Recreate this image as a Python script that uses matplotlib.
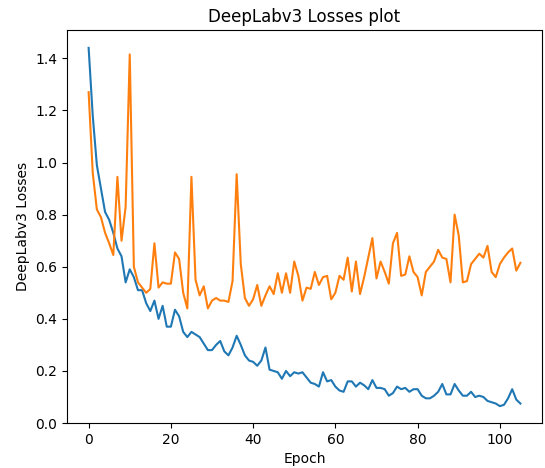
import matplotlib
matplotlib.use("Agg")
import matplotlib.pyplot as plt
import numpy as np

# per-epoch losses
train_loss = [1.44, 1.18, 0.99, 0.90, 0.81, 0.78, 0.73, 0.67, 0.64, 0.54,
              0.59, 0.56, 0.51, 0.51, 0.46, 0.43, 0.47, 0.40, 0.45, 0.37,
              0.37, 0.435, 0.41, 0.35, 0.33, 0.35, 0.34, 0.33, 0.305, 0.28,
              0.28, 0.30, 0.315, 0.275, 0.26, 0.29, 0.335, 0.30, 0.26, 0.24,
              0.235, 0.22, 0.24, 0.29, 0.205, 0.20, 0.195, 0.17, 0.20, 0.18,
              0.195, 0.19, 0.195, 0.175, 0.155, 0.15, 0.14, 0.195, 0.16, 0.165,
              0.14, 0.125, 0.12, 0.16, 0.16, 0.14, 0.155, 0.145, 0.13, 0.165,
              0.135, 0.135, 0.13, 0.105, 0.115, 0.14, 0.13, 0.135, 0.12, 0.13,
              0.13, 0.105, 0.095, 0.095, 0.105, 0.12, 0.15, 0.11, 0.11, 0.15,
              0.125, 0.105, 0.105, 0.12, 0.10, 0.105, 0.10, 0.085, 0.08, 0.075,
              0.065, 0.07, 0.095, 0.13, 0.09, 0.075]
val_loss = [1.27, 0.96, 0.82, 0.79, 0.73, 0.69, 0.645, 0.945, 0.70, 0.83,
            1.415, 0.60, 0.54, 0.52, 0.50, 0.515, 0.69, 0.52, 0.54, 0.535,
            0.535, 0.655, 0.63, 0.50, 0.44, 0.945, 0.55, 0.49, 0.525, 0.44,
            0.47, 0.48, 0.47, 0.47, 0.465, 0.545, 0.955, 0.61, 0.48, 0.45,
            0.475, 0.53, 0.45, 0.49, 0.525, 0.495, 0.575, 0.50, 0.575, 0.50,
            0.62, 0.565, 0.47, 0.52, 0.515, 0.58, 0.53, 0.56, 0.565, 0.475,
            0.50, 0.565, 0.55, 0.635, 0.505, 0.62, 0.495, 0.56, 0.635, 0.71,
            0.555, 0.62, 0.58, 0.535, 0.69, 0.73, 0.565, 0.57, 0.64, 0.58,
            0.56, 0.49, 0.58, 0.60, 0.62, 0.665, 0.635, 0.63, 0.54, 0.80,
            0.72, 0.54, 0.545, 0.61, 0.63, 0.65, 0.635, 0.68, 0.58, 0.56,
            0.61, 0.635, 0.655, 0.67, 0.585, 0.615]
epochs = np.arange(len(train_loss))

fig, ax = plt.subplots(figsize=(5.45, 4.68), dpi=100)
fig.subplots_adjust(left=0.123, right=0.9945, top=0.936, bottom=0.096)
ax.plot(epochs, train_loss)
ax.plot(epochs, val_loss)
ax.set_ylim(bottom=0)
ax.set_title("DeepLabv3 Losses plot")
ax.set_xlabel("Epoch")
ax.set_ylabel("DeepLabv3 Losses")
fig.savefig("out.png", dpi=100)
